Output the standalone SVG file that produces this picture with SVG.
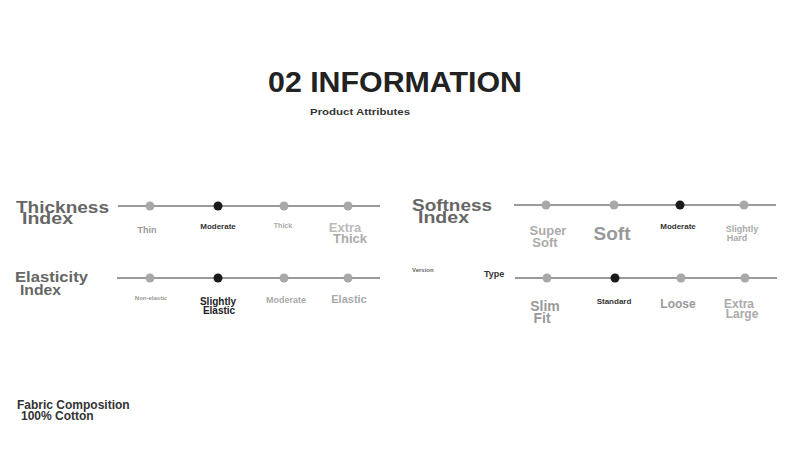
<svg xmlns="http://www.w3.org/2000/svg" width="790" height="450" viewBox="0 0 790 450">
<style>
text{font-family:"Liberation Sans",Arial,sans-serif;font-weight:bold}
.l{stroke:#9a9a9a;stroke-width:2}
.d{fill:#a8a8a8}
.k{fill:#1a1a1a}
.m{text-anchor:middle}
</style>
<rect width="790" height="450" fill="#fff"/>
<g id="title">
<text x="268" y="92" font-size="29" fill="#222" textLength="254" lengthAdjust="spacingAndGlyphs">02 INFORMATION</text>
<text x="310" y="115" font-size="9.5" fill="#333" textLength="100" lengthAdjust="spacingAndGlyphs">Product Attributes</text>
</g>
<g id="connectors">
<line class="l" x1="118" y1="206" x2="380" y2="206"/>
<line class="l" x1="117" y1="278" x2="380" y2="278"/>
<line class="l" x1="514" y1="205" x2="776" y2="205"/>
<line class="l" x1="515" y1="278" x2="777" y2="278"/>
</g>
<g id="thickness">
<text x="16" y="213" font-size="16" fill="#666" textLength="93" lengthAdjust="spacingAndGlyphs">Thickness</text>
<text x="22" y="224" font-size="16" fill="#666" textLength="51" lengthAdjust="spacingAndGlyphs">Index</text>
<circle class="d" cx="150" cy="206" r="4.5"/><circle class="k" cx="218" cy="206" r="4.5"/><circle class="d" cx="284" cy="206" r="4.5"/><circle class="d" cx="348" cy="206" r="4.5"/>
<text x="147" y="233" class="m" font-size="9" fill="#999">Thin</text>
<text x="218" y="229" class="m" font-size="8" fill="#333">Moderate</text>
<text x="283" y="228" class="m" font-size="7" fill="#aaa">Thick</text>
<text x="345" y="232" class="m" font-size="13" fill="#bbb">Extra</text>
<text x="350" y="243" class="m" font-size="13" fill="#aaa">Thick</text>
</g>
<g id="elasticity">
<text x="15" y="282" font-size="15" fill="#666" textLength="73" lengthAdjust="spacingAndGlyphs">Elasticity</text>
<text x="20" y="295" font-size="15" fill="#666" textLength="41" lengthAdjust="spacingAndGlyphs">Index</text>
<circle class="d" cx="150" cy="278" r="4.5"/><circle class="k" cx="218" cy="278" r="4.5"/><circle class="d" cx="284" cy="278" r="4.5"/><circle class="d" cx="348" cy="278" r="4.5"/>
<text x="151" y="300" class="m" font-size="6" fill="#999">Non-elastic</text>
<text x="218" y="305" class="m" font-size="10" fill="#222">Slightly</text>
<text x="219" y="314" class="m" font-size="10" fill="#222">Elastic</text>
<text x="286" y="303" class="m" font-size="9" fill="#aaa">Moderate</text>
<text x="349" y="303" class="m" font-size="11" fill="#aaa">Elastic</text>
</g>
<g id="softness">
<text x="412" y="211" font-size="16" fill="#666" textLength="80" lengthAdjust="spacingAndGlyphs">Softness</text>
<text x="418" y="223" font-size="16" fill="#666" textLength="51" lengthAdjust="spacingAndGlyphs">Index</text>
<circle class="d" cx="546" cy="205" r="4.5"/><circle class="d" cx="614" cy="205" r="4.5"/><circle class="k" cx="680" cy="205" r="4.5"/><circle class="d" cx="744" cy="205" r="4.5"/>
<text x="548" y="235" class="m" font-size="13" fill="#aaa">Super</text>
<text x="545" y="247" class="m" font-size="13" fill="#aaa">Soft</text>
<text x="612" y="240" class="m" font-size="19" fill="#999">Soft</text>
<text x="678" y="229" class="m" font-size="8" fill="#333">Moderate</text>
<text x="742" y="232" class="m" font-size="9" fill="#aaa">Slightly</text>
<text x="737" y="241" class="m" font-size="9" fill="#aaa">Hard</text>
</g>
<g id="type">
<text x="412" y="272" font-size="6" fill="#666">Version</text>
<text x="484" y="277" font-size="9" fill="#333">Type</text>
<circle class="d" cx="547" cy="278" r="4.5"/><circle class="k" cx="615" cy="278" r="4.5"/><circle class="d" cx="681" cy="278" r="4.5"/><circle class="d" cx="745" cy="278" r="4.5"/>
<text x="545" y="311" class="m" font-size="14" fill="#999">Slim</text>
<text x="542" y="323" class="m" font-size="14" fill="#999">Fit</text>
<text x="614" y="304" class="m" font-size="8" fill="#333">Standard</text>
<text x="678" y="308" class="m" font-size="12" fill="#999">Loose</text>
<text x="739" y="308" class="m" font-size="12" fill="#aaa">Extra</text>
<text x="742" y="318" class="m" font-size="12" fill="#aaa">Large</text>
</g>
<g id="fabric">
<text x="17" y="409" font-size="12" fill="#333">Fabric Composition</text>
<text x="21" y="420" font-size="12" fill="#333">100% Cotton</text>
</g>
</svg>
